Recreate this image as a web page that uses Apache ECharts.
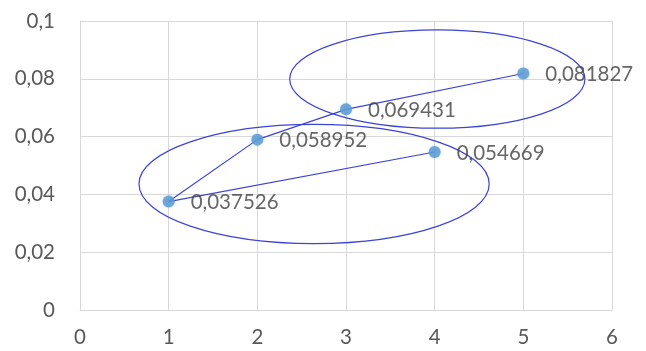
<!DOCTYPE html>
<html>
<head>
<meta charset="utf-8">
<style>
  html, body { margin: 0; padding: 0; background: #ffffff; }
  #chart { width: 646px; height: 351px; }
</style>
<script src="https://cdn.jsdelivr.net/npm/echarts@6/dist/echarts.min.js"></script>
</head>
<body>
<div id="chart"></div>
<script>
// Measured points
const xValues = [1, 2, 3, 4, 5];
const yValues = [0.037526, 0.058952, 0.069431, 0.054669, 0.081827];

// Order in which the connecting polyline visits the points (indices into the arrays above)
const pathOrder = [3, 0, 1, 2, 4];

// Grouping ellipses in data units: centre x, centre y, half-width, half-height
const ellipseCx = [2.64, 4.03];
const ellipseCy = [0.0436, 0.0799];
const ellipseRx = [1.975, 1.665];
const ellipseRy = [0.0206, 0.0170];

// Axis ticks
const xTicks = [0, 1, 2, 3, 4, 5, 6];
const yTicks = [0, 0.02, 0.04, 0.06, 0.08, 0.1];

const fmt = v => String(Number(v.toFixed(6))).replace('.', ',');

const pointData = xValues.map((x, i) => [x, yValues[i]]);
const pathData = pathOrder.map(i => [xValues[i], yValues[i]]);
const ellipseData = ellipseCx.map((cx, i) => [cx, ellipseCy[i], ellipseRx[i], ellipseRy[i]]);

const FONT = 'Lato';
const FS = 20.5;
const chart = echarts.init(document.getElementById('chart'), null, { renderer: 'canvas' });

chart.setOption({
  animation: false,
  backgroundColor: '#ffffff',
  grid: { left: 80, right: 34, top: 21, bottom: 41 },
  xAxis: {
    type: 'value',
    min: xTicks[0],
    max: xTicks[xTicks.length - 1],
    interval: 1,
    axisLine: { show: true, lineStyle: { color: '#d9d9d9', width: 1 } },
    axisTick: { show: false },
    splitLine: { show: true, lineStyle: { color: '#d9d9d9', width: 1 } },
    axisLabel: { color: '#595959', fontFamily: FONT, fontSize: FS, margin: 17, formatter: v => fmt(v) }
  },
  yAxis: {
    type: 'value',
    min: yTicks[0],
    max: yTicks[yTicks.length - 1],
    interval: 0.02,
    axisLine: { show: true, lineStyle: { color: '#d9d9d9', width: 1 } },
    axisTick: { show: false },
    splitLine: { show: true, lineStyle: { color: '#d9d9d9', width: 1 } },
    axisLabel: { color: '#595959', fontFamily: FONT, fontSize: FS, margin: 25, formatter: v => fmt(v) }
  },
  series: [
    {
      type: 'line',
      data: pathData,
      symbol: 'none',
      lineStyle: { color: '#3b44d6', width: 1.2 },
      z: 3
    },
    {
      type: 'custom',
      data: ellipseData,
      renderItem: function (params, api) {
        const c = api.coord([api.value(0), api.value(1)]);
        const s = api.size([api.value(2), api.value(3)]);
        return {
          type: 'ellipse',
          shape: { cx: c[0], cy: c[1], rx: s[0], ry: s[1] },
          style: { fill: 'none', stroke: '#3b44d6', lineWidth: 1.2 }
        };
      },
      z: 4
    },
    {
      type: 'scatter',
      data: pointData,
      symbol: 'circle',
      symbolSize: 12,
      itemStyle: { color: '#5b9bd5', shadowColor: 'rgba(91,155,213,0.6)', shadowBlur: 2 },
      label: {
        show: true,
        position: 'right',
        distance: 16,
        offset: [0, 1],
        color: '#404040',
        fontFamily: FONT,
        fontSize: FS,
        formatter: p => fmt(p.value[1])
      },
      z: 5
    }
  ]
});
</script>
</body>
</html>
